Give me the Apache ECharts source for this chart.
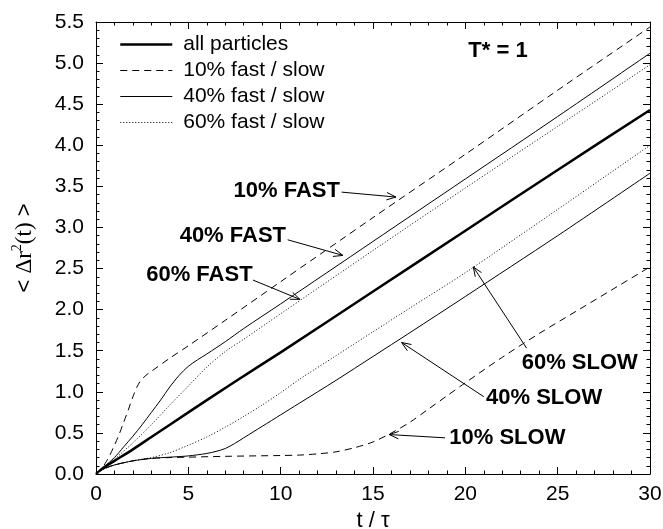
<!DOCTYPE html>
<html><head><meta charset="utf-8">
<script src="https://cdn.jsdelivr.net/npm/echarts@6/dist/echarts.min.js"></script>
<style>html,body{margin:0;padding:0;background:#fff}#c{width:663px;height:529px}</style>
</head><body><div id="c"></div>
<script>
// ---- data ----
const allT = [0,0.25,0.5,1,2,3,5,7.5,10,15,20,25,30];
const allY = [0,0.05,0.09,0.16,0.3,0.45,0.75,1.12,1.48,2.22,2.96,3.7,4.43];

const fast10T = [0,0.25,0.5,0.75,1,1.25,1.5,1.75,2,2.2,2.4,2.7,3,4,5,7,10,15,20,25,30];
const fast10Y = [0,0.05,0.13,0.23,0.35,0.48,0.63,0.78,0.94,1.05,1.13,1.2,1.25,1.41,1.56,1.87,2.34,3.12,3.89,4.67,5.44];

const fast40T = [0,0.5,1,1.5,2,2.5,3,3.5,4,4.5,5,5.5,6,7,8,10,15,20,25,30];
const fast40Y = [0,0.1,0.2,0.33,0.46,0.6,0.75,0.9,1.06,1.2,1.31,1.39,1.46,1.61,1.77,2.07,2.83,3.59,4.35,5.12];

const fast60T = [0,0.5,1,2,3,4,5,6,7,8,10,15,20,25,30];
const fast60Y = [0,0.09,0.18,0.38,0.6,0.84,1.07,1.3,1.49,1.64,1.95,2.72,3.48,4.23,4.98];

const slow60T = [0,0.25,0.5,1,2,3,4,5,6,7,8,9,10,11,13,15,17,20,25,30];
const slow60Y = [0,0.04,0.07,0.11,0.16,0.2,0.26,0.35,0.45,0.57,0.7,0.84,0.99,1.15,1.44,1.73,2.02,2.45,3.22,4.0];

const slow40T = [0,0.25,0.5,1,2,3,4,5,6,6.5,7,7.5,8,9,10,11,13,15,17,20,25,30];
const slow40Y = [0,0.04,0.07,0.11,0.16,0.19,0.205,0.22,0.25,0.275,0.31,0.37,0.44,0.58,0.72,0.86,1.14,1.43,1.72,2.16,2.9,3.66];

const slow10T = [0,0.25,0.5,1,2,3,4,5,7,10,11,12,13,14,15,16,17,18,19,20,22,24,26,28,30];
const slow10Y = [0,0.04,0.07,0.11,0.16,0.19,0.2,0.205,0.215,0.225,0.23,0.245,0.27,0.32,0.39,0.5,0.63,0.79,0.95,1.11,1.42,1.71,1.98,2.25,2.52];

const legendNames = ['all particles','10% fast / slow','40% fast / slow','60% fast / slow'];

// annotations (text anchor and arrow, in data units)
const annText  = ['10% FAST','40% FAST','60% FAST','60% SLOW','40% SLOW','10% SLOW','T* = 1'];
const annX     = [13.21,10.29,8.48,23.05,21.12,19.13,21.77];
const annY     = [3.44,2.90,2.42,1.354,0.92,0.44,5.15];
const annAlign = ['right','right','right','left','left','left','center'];
const arrFromX = [13.30,10.38,8.50,23.32,21.00,18.90,null];
const arrFromY = [3.43,2.85,2.36,1.53,0.94,0.44,null];
const arrToX   = [16.24,13.37,11.04,20.43,16.55,15.88,null];
const arrToY   = [3.37,2.66,2.125,2.52,1.60,0.48,null];

// ---- build ----
const zip = (a,b) => a.map((v,i)=>[v,b[i]]);
const FONT = 'Liberation Sans';
const black = '#000';
const seriesWidth = {'all particles':2.5};

function lineSeries(name, t, y, width, type) {
  return {
    name, type:'line', data: zip(t,y), symbol:'none', smooth:0.3,
    lineStyle:{color:black, width, type}, itemStyle:{color:black}, z:3, silent:true
  };
}

const axisCommon = {
  type:'value',
  axisLine:{show:true, onZero:false, lineStyle:{color:black, width:1}},
  axisTick:{show:true, inside:true, length:7, lineStyle:{color:black, width:1}},
  minorTick:{show:true, splitNumber:5, length:3.5, lineStyle:{color:black, width:1}},
  splitLine:{show:false}, minorSplitLine:{show:false}
};

const option = {
  animation:false,
  backgroundColor:'#fff',
  grid:{left:96, right:13, top:22, bottom:55, containLabel:false, outerBoundsMode:'none'},
  legend:{
    data:legendNames.map(n=>({name:n, lineStyle:{width:seriesWidth[n]||1}})),
    orient:'vertical', left:119, top:34, padding:0,
    itemWidth:52, itemHeight:14, itemGap:5, selectedMode:false,
    itemStyle:{color:'rgba(0,0,0,0)', borderColor:'rgba(0,0,0,0)', borderWidth:0, opacity:0},
    textStyle:{fontSize:21, fontFamily:FONT, color:black, padding:[0,0,0,6]}
  },
  xAxis:[
    Object.assign({}, axisCommon, {
      min:0, max:30, interval:5, position:'bottom',
      axisLabel:{fontSize:21, fontFamily:FONT, color:black, margin:10},
      name:'t / τ', nameLocation:'middle', nameGap:34,
      nameTextStyle:{fontSize:22, fontFamily:FONT, color:black}
    }),
    Object.assign({}, axisCommon, {
      min:0, max:30, interval:5, position:'top', axisLabel:{show:false}
    })
  ],
  yAxis:[
    Object.assign({}, axisCommon, {
      min:0, max:5.5, interval:0.5, position:'left',
      axisLabel:{fontSize:21, fontFamily:FONT, color:black, margin:12,
        formatter:v=>v.toFixed(1)},
      name:'{a|< }{b|Δr}{s|2}{b|(t)}{a| >}', nameLocation:'middle', nameGap:56,
      nameTextStyle:{color:black, rich:{
        a:{fontFamily:FONT, fontSize:22, lineHeight:30, color:black},
        b:{fontFamily:'Liberation Serif', fontSize:23, lineHeight:30, color:black},
        s:{fontFamily:'Liberation Serif', fontSize:14, lineHeight:14, verticalAlign:'top', color:black}
      }}
    }),
    Object.assign({}, axisCommon, {
      min:0, max:5.5, interval:0.5, position:'right', axisLabel:{show:false}
    })
  ],
  series:[
    lineSeries('all particles', allT, allY, 2.5, 'solid'),
    lineSeries('10% fast / slow', fast10T, fast10Y, 1, [7,5]),
    lineSeries('10% fast / slow', slow10T, slow10Y, 1, [7,5]),
    lineSeries('40% fast / slow', fast40T, fast40Y, 1, 'solid'),
    lineSeries('40% fast / slow', slow40T, slow40Y, 1, 'solid'),
    lineSeries('60% fast / slow', fast60T, fast60Y, 1, [1,2]),
    lineSeries('60% fast / slow', slow60T, slow60Y, 1, [1,2]),
    {
      name:'annotations', type:'custom', z:5, silent:true, clip:false,
      data: zip(annX, annY),
      renderItem:(params, api)=>{
        const i = params.dataIndex;
        const p = api.coord([annX[i], annY[i]]);
        const children = [{
          type:'text',
          style:{text:annText[i], x:p[0], y:p[1], align:annAlign[i], verticalAlign:'middle',
            fill:black, fontSize:22, fontWeight:'bold', fontFamily:FONT}
        }];
        if (arrFromX[i] !== null) {
          const a = api.coord([arrFromX[i], arrFromY[i]]);
          const b = api.coord([arrToX[i], arrToY[i]]);
          const ang = Math.atan2(b[1]-a[1], b[0]-a[0]);
          const L = 10, h = 0.38;
          const p1 = [b[0]-L*Math.cos(ang-h), b[1]-L*Math.sin(ang-h)];
          const p2 = [b[0]-L*Math.cos(ang+h), b[1]-L*Math.sin(ang+h)];
          children.push({type:'line', shape:{x1:a[0],y1:a[1],x2:b[0],y2:b[1]},
            style:{stroke:black, lineWidth:1}});
          children.push({type:'polyline', shape:{points:[p1,b,p2]},
            style:{stroke:black, lineWidth:1, fill:null}});
        }
        return {type:'group', children};
      }
    }
  ]
};

const chart = echarts.init(document.getElementById('c'), null, {renderer:'canvas'});
chart.setOption(option);
</script>
</body></html>
